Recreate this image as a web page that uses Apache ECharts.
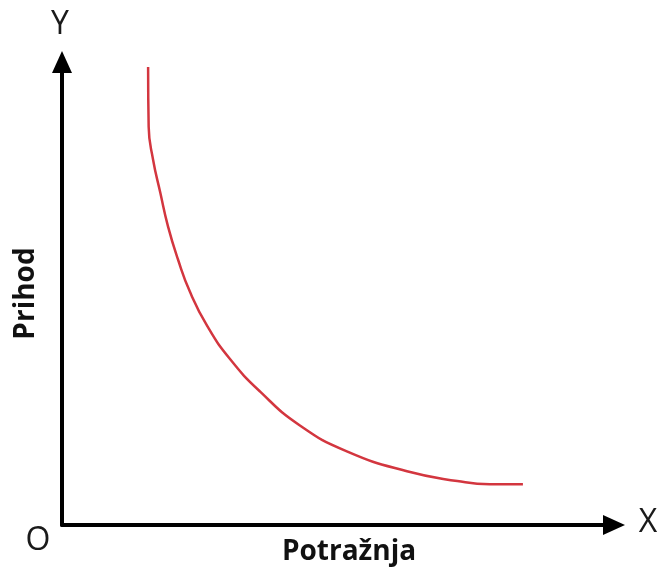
<!DOCTYPE html>
<html>
<head>
<meta charset="utf-8">
<script src="https://cdn.jsdelivr.net/npm/echarts@6/dist/echarts.min.js"></script>
<style>
  html, body { margin: 0; padding: 0; background: #fff; }
  #chart { width: 659px; height: 571px; }
</style>
</head>
<body>
<div id="chart"></div>
<script>
// curve (axes run 0..100 in both directions)
const demandX = [15.6, 15.7, 16.5, 17.8, 19.2, 21.0, 23.2, 26.3, 30.4, 35.9, 43.1, 51.6, 62.5, 71.6, 77.5, 83.5]
const revenueY = [98.9, 86.0, 78.9, 71.8, 64.5, 57.4, 50.3, 43.0, 35.9, 28.8, 21.5, 15.9, 11.6, 9.5, 8.8, 8.8]
const xTitle = 'Potražnja'
const yTitle = 'Prihod'

const myChart = echarts.init(document.getElementById('chart'))

const axisStyle = {
  show: true,
  symbol: ['none', 'triangle'],
  symbolSize: [20, 22],
  lineStyle: { color: '#000', width: 4 }
}
const letterStyle = { fontFamily: 'Liberation Sans Narrow, Open Sans', fontSize: 32, fill: '#1a1a1a', align: 'center', verticalAlign: 'middle' }
const titleStyle = { fontFamily: 'Open Sans', fontWeight: 'bold', fontSize: 28, color: '#111' }

myChart.setOption({
  animation: false,
  grid: { left: 62, right: 45, top: 62, bottom: 44 },
  xAxis: {
    type: 'value',
    min: 0,
    max: 100,
    name: xTitle,
    nameLocation: 'middle',
    nameGap: 13,
    nameTextStyle: Object.assign({ padding: [0, 0, 0, 22] }, titleStyle),
    axisLine: axisStyle,
    axisTick: { show: false },
    axisLabel: { show: false },
    splitLine: { show: false }
  },
  yAxis: {
    type: 'value',
    min: 0,
    max: 100,
    name: yTitle,
    nameLocation: 'middle',
    nameRotate: 90,
    nameGap: 22,
    nameTextStyle: titleStyle,
    axisLine: axisStyle,
    axisTick: { show: false },
    axisLabel: { show: false },
    splitLine: { show: false }
  },
  graphic: [
    { type: 'text', x: 60, y: 25, style: Object.assign({ text: 'Y' }, letterStyle) },
    { type: 'text', x: 648, y: 523, style: Object.assign({ text: 'X' }, letterStyle) },
    { type: 'text', x: 38, y: 541, style: Object.assign({ text: 'O' }, letterStyle) }
  ],
  series: [{
    type: 'line',
    data: demandX.map((x, i) => [x, revenueY[i]]),
    smooth: true,
    showSymbol: false,
    lineStyle: { color: '#d3363f', width: 2.5 }
  }]
})
</script>
</body>
</html>
